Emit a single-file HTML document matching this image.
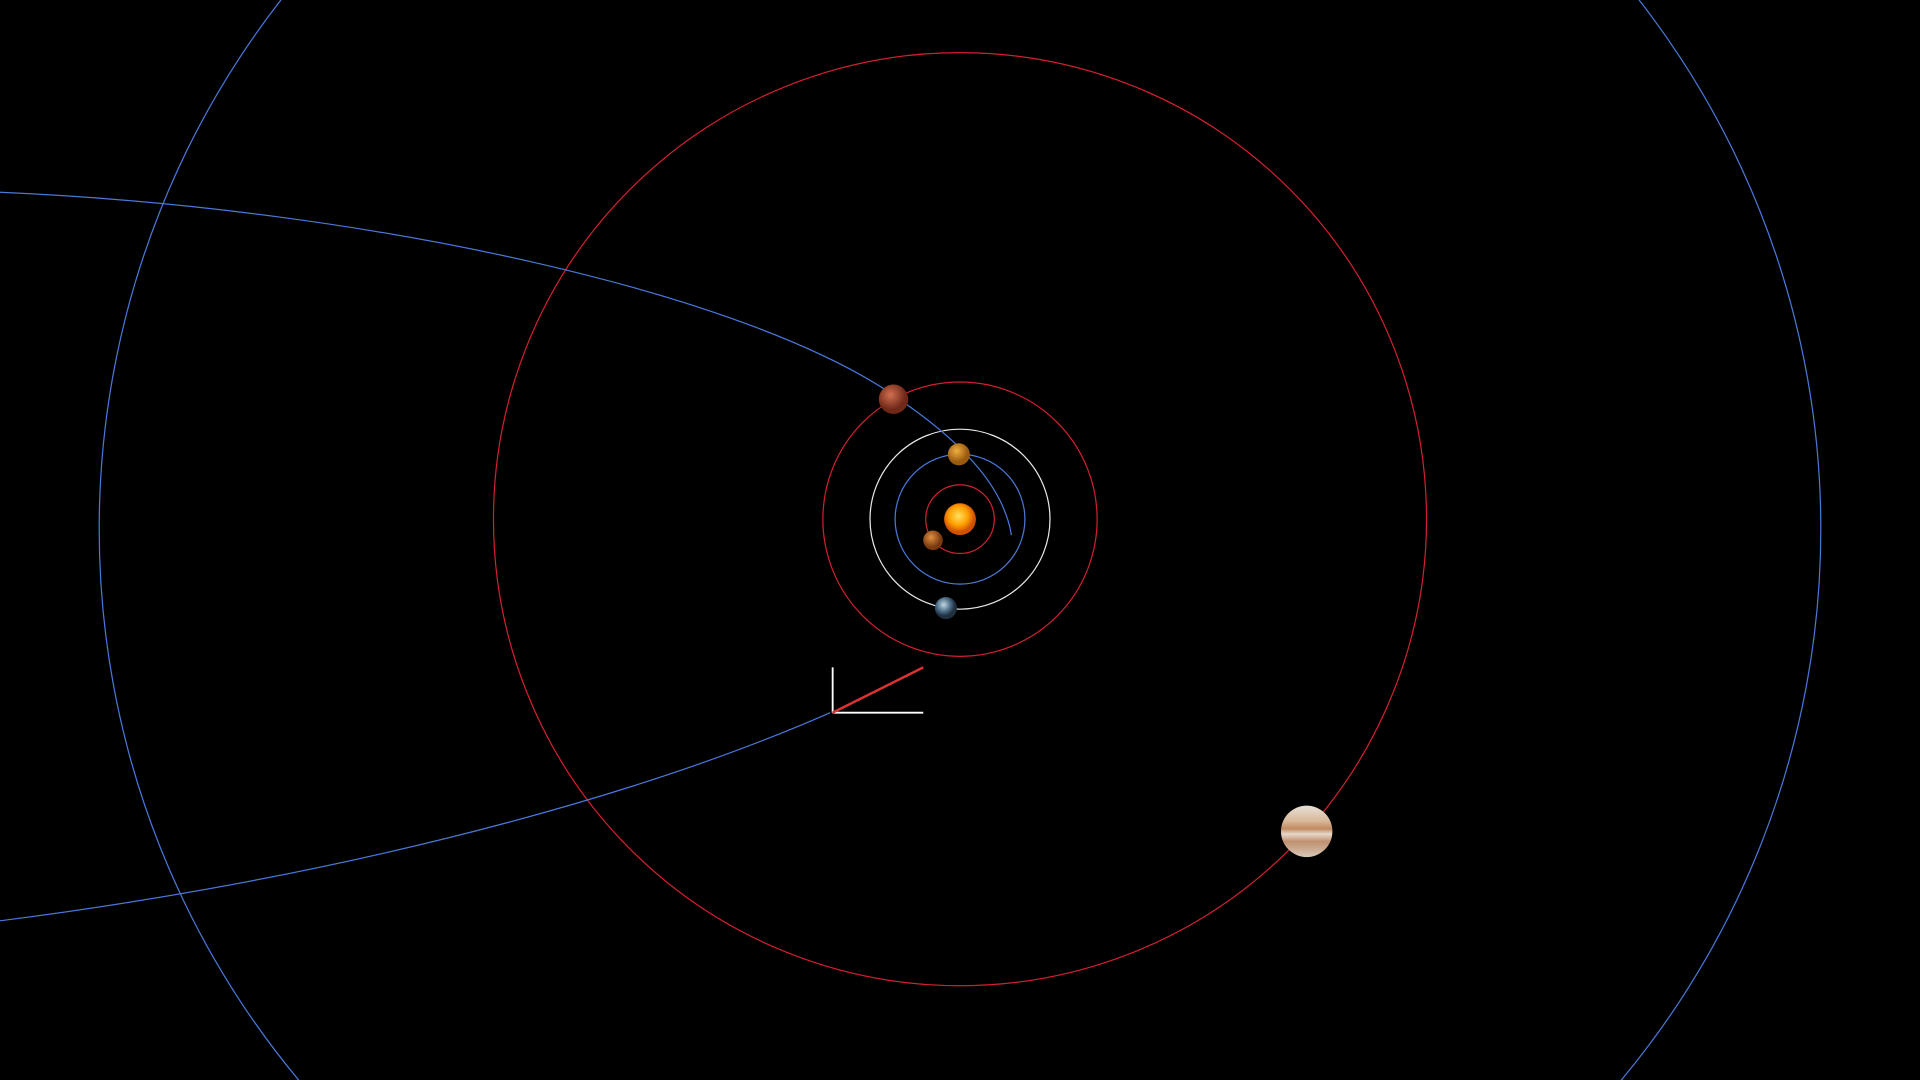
<!DOCTYPE html>
<html><head><meta charset="utf-8"><style>
html,body{margin:0;padding:0;background:#000;width:1920px;height:1080px;overflow:hidden}
#wrap{position:absolute;left:0;top:0;width:1920px;height:1080px;overflow:hidden}
svg{display:block;overflow:hidden}
</style></head><body>
<div id="wrap">
<svg id="scene" width="1920" height="1080" viewBox="0 0 1568 882" xmlns="http://www.w3.org/2000/svg">
<defs>
<radialGradient id="gSun" cx="45%" cy="40%"><stop offset="0" stop-color="#ffe060"/><stop offset="0.6" stop-color="#ffa000"/><stop offset="1" stop-color="#d05000"/></radialGradient>
<radialGradient id="gMerc" cx="40%" cy="35%"><stop offset="0" stop-color="#e09040"/><stop offset="1" stop-color="#7a3a10"/></radialGradient>
<radialGradient id="gVen" cx="40%" cy="35%"><stop offset="0" stop-color="#f0b040"/><stop offset="1" stop-color="#9a5a10"/></radialGradient>
<radialGradient id="gEarth" cx="40%" cy="35%"><stop offset="0" stop-color="#c0d8e0"/><stop offset="0.6" stop-color="#50708a"/><stop offset="1" stop-color="#203040"/></radialGradient>
<radialGradient id="gMars" cx="40%" cy="35%"><stop offset="0" stop-color="#d07050"/><stop offset="1" stop-color="#702818"/></radialGradient>
<linearGradient id="gJup" x1="0" y1="0" x2="0" y2="1"><stop offset="0" stop-color="#e8e0d8"/><stop offset="0.3" stop-color="#d8b89a"/><stop offset="0.45" stop-color="#c08a60"/><stop offset="0.55" stop-color="#e8d8c8"/><stop offset="0.7" stop-color="#c09070"/><stop offset="1" stop-color="#d8c8b8"/></linearGradient>
</defs>
<g id="orbits"></g>
<path d="M0 157 C 300 170, 620 240, 740 330 C 790 365, 820 400, 826 437" fill="none" stroke="#4a78d8" stroke-width="1"/>
<path d="M678 582 C 500 660, 250 720, 0 752" fill="none" stroke="#4a78d8" stroke-width="1"/>
<g>
<line x1="680" y1="545" x2="680" y2="582" stroke="#fff" stroke-width="1.5"/>
<line x1="680" y1="582" x2="754" y2="582" stroke="#fff" stroke-width="1.5"/>
<line x1="680" y1="582" x2="754" y2="545" stroke="#e03030" stroke-width="2"/>
</g>
<g id="bodies"></g>
</svg>
</div>
<script>
const orbitNames = ["mercury","venus","earth","mars","jupiter","saturn"];
const orbitRadii = [28, 53, 73.5, 112, 381, 703];
const orbitColors = ["#d02030","#4a78d8","#e8e8e8","#d02030","#d02030","#4a78d8"];
const orbitCenterShift = [0, 0, 0, 0, 0, 8];
const planetAngles = [142, -91, 99, -119, 42];
const planetSizes = [8, 9, 9, 12, 21];
const planetFills = ["url(#gMerc)","url(#gVen)","url(#gEarth)","url(#gMars)","url(#gJup)"];
const cx = 784, cy = 424;
const NS = "http://www.w3.org/2000/svg";
const og = document.getElementById("orbits");
orbitNames.forEach((n,i)=>{
  const c = document.createElementNS(NS,"circle");
  c.setAttribute("cx",cx); c.setAttribute("cy",cy + orbitCenterShift[i]); c.setAttribute("r",orbitRadii[i]);
  c.setAttribute("fill","none"); c.setAttribute("stroke",orbitColors[i]); c.setAttribute("stroke-width","1");
  
  
  og.appendChild(c);
});
const bg = document.getElementById("bodies");
const sun = document.createElementNS(NS,"circle");
sun.setAttribute("cx",cx); sun.setAttribute("cy",cy); sun.setAttribute("r",13); sun.setAttribute("fill","url(#gSun)");


bg.appendChild(sun);
planetAngles.forEach((a,i)=>{
  const r = orbitRadii[i], t = a*Math.PI/180;
  const p = document.createElementNS(NS,"circle");
  p.setAttribute("cx", cx + r*Math.cos(t)); p.setAttribute("cy", cy + r*Math.sin(t));
  p.setAttribute("r", planetSizes[i]); p.setAttribute("fill", planetFills[i]);
  
  
  bg.appendChild(p);
});
</script>
</body></html>
